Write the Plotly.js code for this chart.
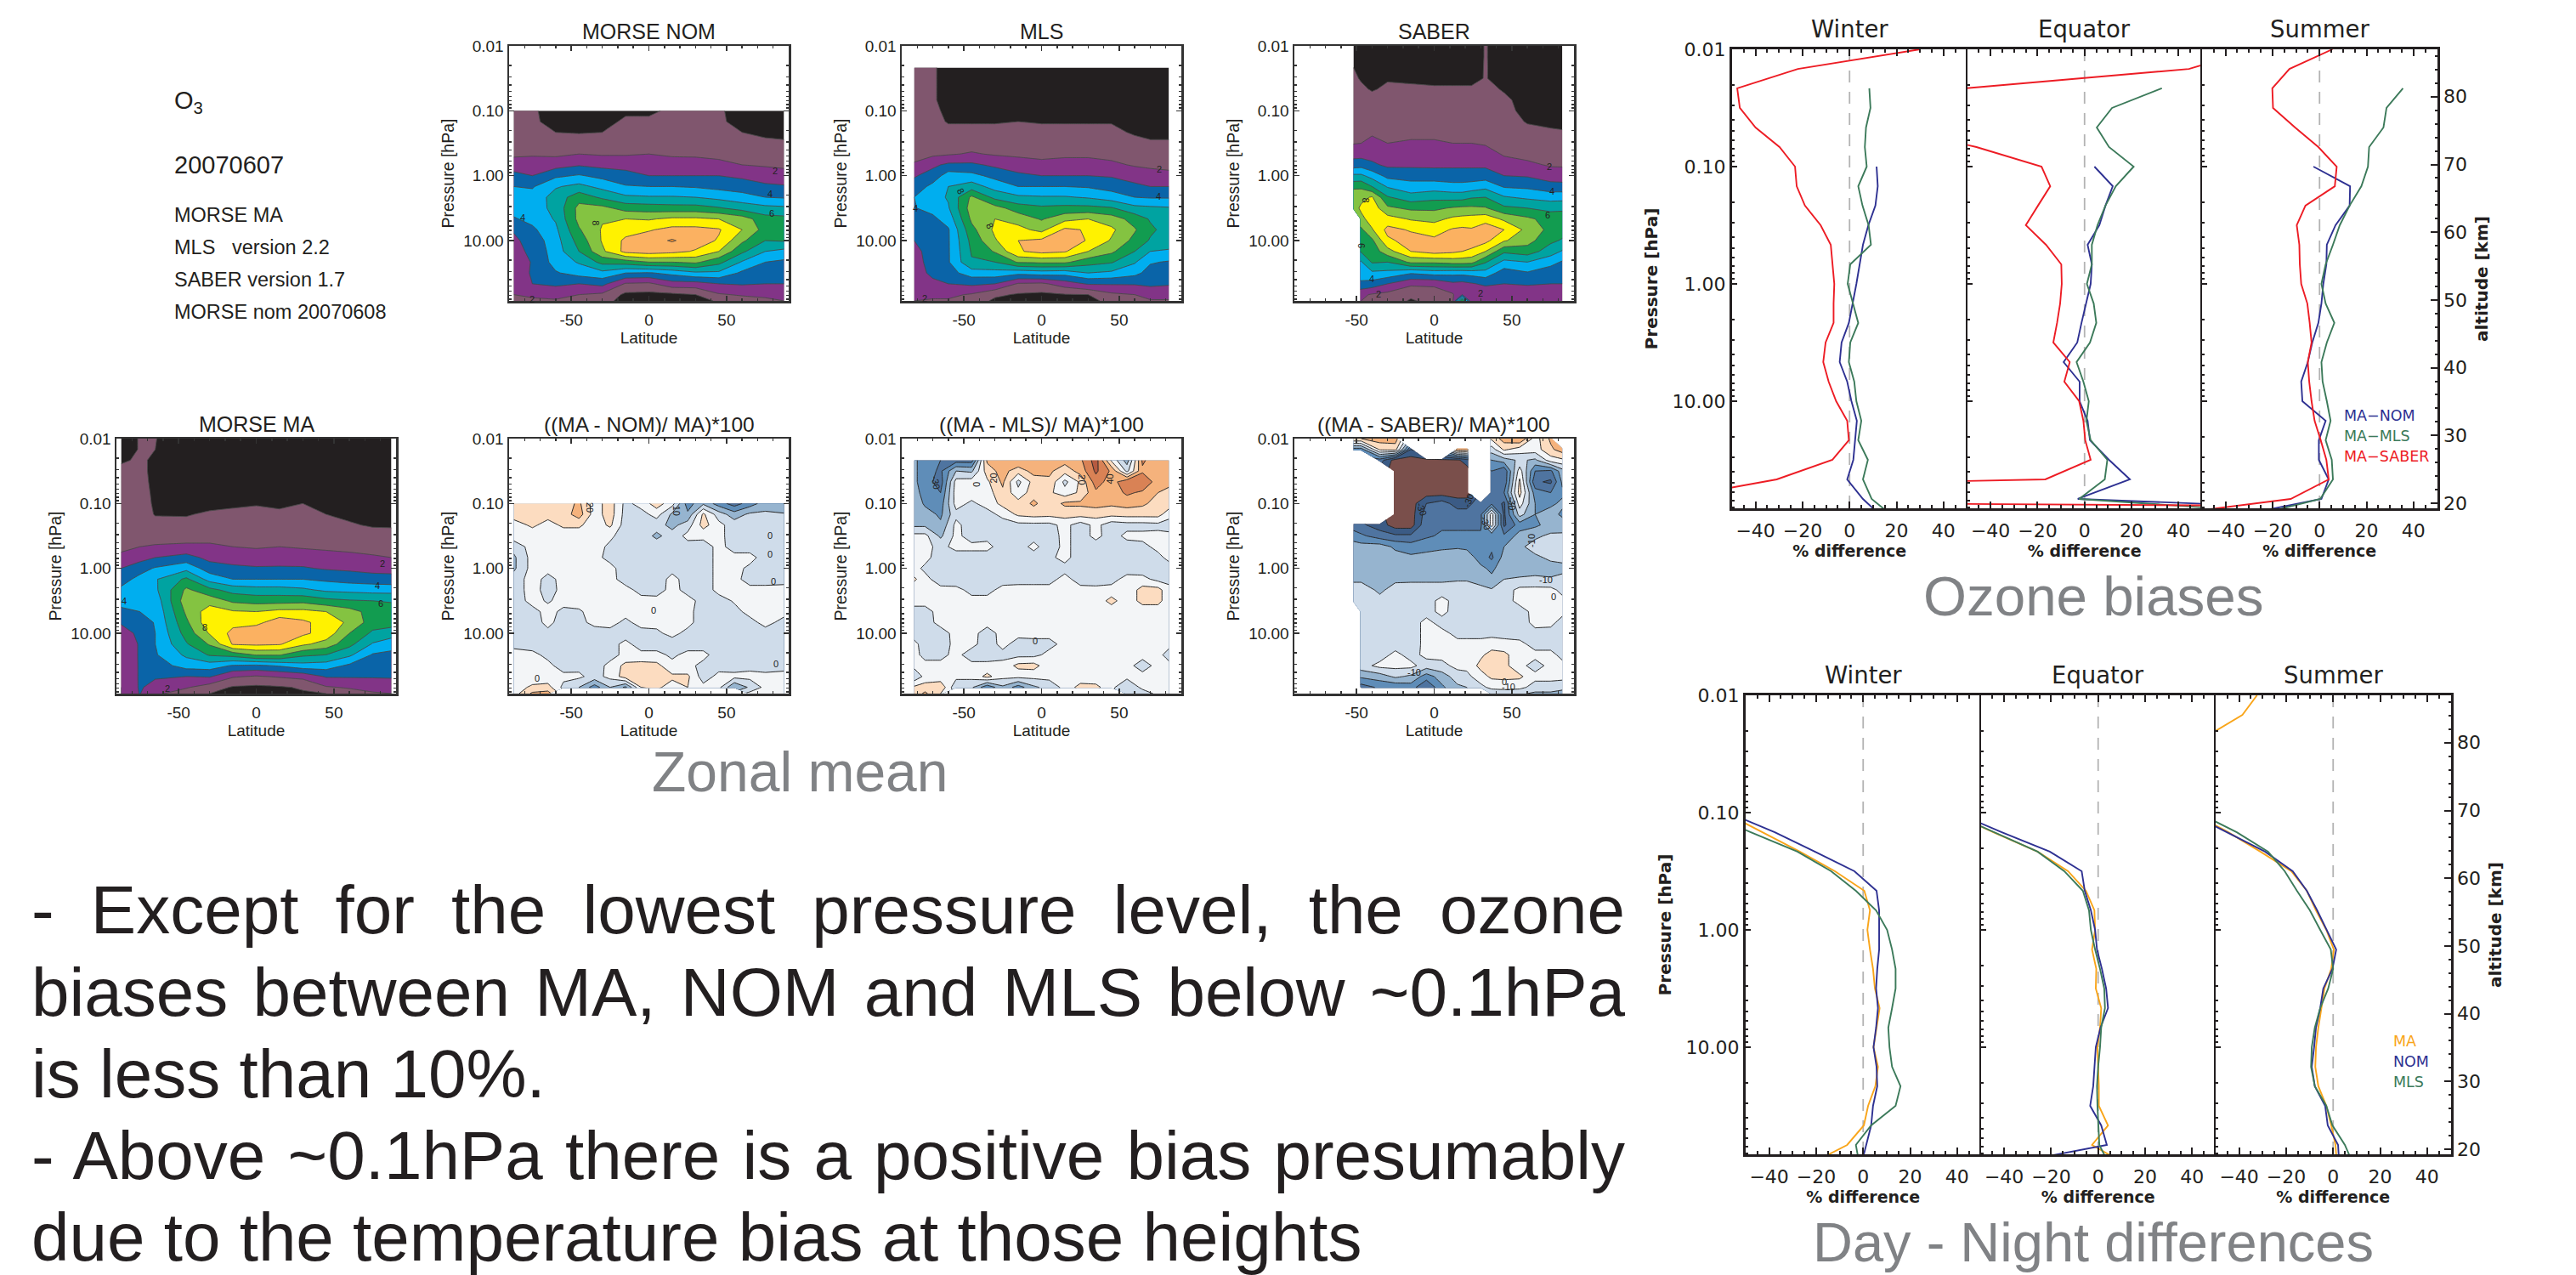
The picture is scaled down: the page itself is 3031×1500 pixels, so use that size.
<!DOCTYPE html>
<html><head><meta charset="utf-8">
<script src="https://cdn.plot.ly/plotly-3.0.1.min.js"></script>
<style>html,body{margin:0;padding:0;background:#fff}</style></head>
<body><div id="chart" style="width:3031px;height:1500px"></div>
<script>
// ---------- pressure levels ----------
const pLevels=[0.01,0.0147,0.0215,0.0316,0.0464,0.0681,0.1,0.147,0.215,0.316,0.464,0.681,1,1.47,2.15,3.16,4.64,6.81,10,14.7,21.5,31.6,46.4,68.1,85];
const pLine=[0.01,0.0147,0.0215,0.0316,0.0464,0.0681,0.1,0.147,0.215,0.316,0.464,0.681,1,1.47,2.15,3.16,4.64,6.81,10,14.7,21.5,31.6,46.4,68.1,100];
// ---------- zonal mean ozone (ppmv), one array per latitude, top level downward ----------
const latNom=[-87,-75,-60,-45,-30,-15,0,15,30,45,60,75,87];
const zNomByLat=[
[1.3,1.3,1.4,1.6,1.8,2.5,3.3,4.0,4.4,4.4,3.9,3.1,2.8,2.7,2.6,2.5,2.3,2.0,1.5],
[1.1,1.1,1.3,1.5,1.8,2.8,3.0,3.9,4.4,4.5,4.3,3.8,3.4,3.2,3.05,3.1,3.0,2.2,1.8],
[.7,.8,1.0,1.4,1.8,2.6,3.8,4.9,5.4,5.3,5.1,4.8,4.6,4.5,4.4,3.9,3.2,2.3,1.9],
[.7,.8,.95,1.4,2.0,2.9,4.1,5.3,6.6,7.3,7.3,6.9,6.4,6.0,5.1,4.4,3.0,2.0,1.6],
[.7,.8,1.0,1.4,1.9,2.7,3.7,4.7,5.8,7.3,7.9,8.1,8.1,7.8,6.3,4.7,3.3,1.8,1.5],
[.9,1.1,1.3,1.5,1.9,2.7,3.3,4.1,5.2,6.6,8.0,8.6,9.2,9.3,6.5,4.0,1.9,.8,.5],
[.9,1.1,1.4,1.8,2.0,2.6,3.0,4.0,5.1,6.5,7.9,8.9,9.6,9.5,7.0,3.9,1.8,.75,.5],
[1.1,1.2,1.4,1.7,1.8,2.6,3.0,4.0,5.1,6.4,8.2,9.3,10.1,9.3,7.0,4.3,2.6,.8,.7],
[1.1,1.2,1.3,1.6,1.8,2.5,3.0,3.9,5.0,6.4,8.2,9.3,9.5,8.9,7.2,4.8,2.6,1.0,.7],
[1.1,1.1,1.25,1.5,1.7,2.3,3.0,3.7,4.7,6.1,8.0,9.1,8.9,8.0,6.3,4.8,3.0,1.9,1.1],
[.7,.8,1.0,1.3,1.6,2.0,2.8,3.5,4.4,5.6,7.5,8.0,7.2,6.2,4.9,3.8,3.1,2.1,1.6],
[.6,.7,.8,1.2,1.5,1.9,2.5,3.2,4.0,5.3,6.4,6.6,6.0,5.0,4.0,3.4,3.0,2.2,1.8],
[.6,.7,.8,1.1,1.4,1.8,2.4,3.1,3.9,5.2,6.3,6.5,6.1,4.7,3.8,3.4,3.0,2.4,2.0]];
const latMls=[-82,-70,-60,-45,-30,-15,0,15,30,45,60,70,82];
const zMlsByLat=[
[1.2,1.2,1.2,1.3,1.3,1.3,1.4,1.5,1.7,2.1,2.9,3.4,4.0,3.95,3.7,3.2,3.0,2.8,2.8,2.8,2.9,2.2,2.0],
[1.1,1.1,1.1,1.1,1.2,1.2,1.3,1.5,1.8,2.8,3.4,4.3,4.6,4.3,3.8,3.5,3.4,3.3,3.2,3.1,2.9,2.2,1.9],
[.7,.7,.7,.7,.8,.95,1.2,1.5,1.9,3.2,4.5,5.0,5.1,4.9,4.4,3.9,3.9,3.9,3.9,3.6,3.0,2.2,1.9],
[.6,.6,.7,.7,.8,.95,1.2,1.6,2.1,3.2,4.3,5.5,7.2,7.5,7.2,6.7,6.3,6.1,5.9,4.5,3.2,1.9,1.6],
[.6,.6,.7,.7,.8,.95,1.2,1.5,1.9,2.8,3.7,4.6,5.7,7.4,8.0,8.2,7.9,7.1,6.0,4.6,3.0,1.2,.8],
[.6,.6,.6,.7,.8,1.0,1.2,1.5,1.8,2.5,3.2,4.0,5.2,6.5,7.6,8.3,9.0,8.9,7.1,4.3,1.9,.9,.6],
[.6,.6,.6,.7,.8,.95,1.2,1.5,1.7,2.3,3.0,4.0,5.1,6.2,6.9,7.7,9.2,9.3,7.2,4.5,1.8,.8,.5],
[.6,.6,.6,.7,.8,.95,1.2,1.5,1.8,2.4,3.0,4.0,5.1,6.3,7.7,9.2,9.7,9.1,7.2,4.4,2.5,.95,.7],
[.6,.6,.6,.7,.8,.95,1.2,1.5,1.8,2.4,3.0,3.9,4.9,6.3,8.0,8.9,8.9,8.0,6.4,5.0,3.1,1.0,.8],
[.6,.6,.6,.7,.8,.95,1.2,1.5,1.7,2.2,2.9,3.6,4.5,6.1,7.5,8.2,7.9,7.2,6.1,4.8,3.1,1.8,1.2],
[.5,.5,.5,.6,.6,.7,.9,1.25,1.5,1.9,2.6,3.2,4.0,5.3,6.6,7.1,6.7,6.0,5.1,4.3,3.1,2.0,1.6],
[.5,.5,.5,.6,.6,.65,.8,1.1,1.4,1.8,2.4,3.0,3.9,5.2,5.9,6.2,5.9,5.0,4.1,3.6,3.2,2.4,1.9],
[.5,.5,.5,.6,.6,.65,.8,1.1,1.4,1.7,2.3,3.0,3.9,5.1,5.5,5.6,5.4,4.9,3.9,3.5,3.1,2.4,1.9]];
const latSaber=[-52,-47,-40,-30,-15,0,12,18,24,33,45,60,75,82.5];
const zSaberByLat=[
[.7,.75,1.0,1.1,1.2,1.3,1.4,1.5,1.7,1.95,2.6,3.5,5.2,6.7,7.9,7.5,null,null,null,null,null,null,null,null,null],
[.7,.7,.8,.95,1.1,1.2,1.3,1.5,1.7,2.0,2.6,3.6,5.2,6.8,7.7,8.2,7.7,6.8,6.4,6.1,4.9,4.5,3.8,2.2,2.0],
[.6,.6,.7,.8,.95,1.2,1.3,1.5,1.9,2.2,2.6,3.2,4.6,6.0,8.1,8.6,8.5,7.9,6.8,6.4,6.1,4.8,3.6,1.9,1.5],
[.6,.6,.7,.95,1.1,1.2,1.3,1.5,1.8,2.0,2.3,2.8,3.7,4.9,6.1,7.2,8.4,9.3,8.8,7.6,6.0,4.7,3.0,1.7,1.5],
[.6,.6,.7,.9,1.1,1.2,1.3,1.5,1.8,2.1,2.4,2.8,3.6,4.4,5.4,6.8,7.9,8.9,9.4,9.0,7.2,4.1,2.2,1.2,.9],
[.6,.6,.7,.9,1.05,1.2,1.3,1.5,1.8,2.1,2.4,2.8,3.5,4.5,5.7,6.8,7.7,8.6,9.2,9.4,7.2,4.4,2.2,1.5,1.3],
[.6,.6,.7,.9,1.05,1.2,1.3,1.5,1.8,2.0,2.4,2.8,3.5,4.3,5.6,7.1,8.2,9.1,10.0,9.2,7.4,4.3,2.8,1.9,1.9],
[.6,.6,.7,.9,1.05,1.2,1.3,1.5,1.8,2.0,2.4,2.8,3.5,4.3,5.6,7.2,8.3,9.2,9.6,9.0,7.4,4.3,2.7,3.0,7.0],
[.6,.6,.7,.9,1.05,1.2,1.3,1.4,1.7,2.0,2.4,2.8,3.5,4.4,5.9,7.2,8.4,9.1,9.5,8.8,7.3,4.4,2.9,2.1,2.2],
[1.05,1.05,1.05,1.02,1.15,1.2,1.3,1.4,1.6,1.9,2.4,2.8,3.5,4.7,6.0,7.1,8.6,9.6,9.3,8.0,6.1,4.6,3.2,2.2,2.1],
[.6,.6,.65,.85,.95,1.1,1.2,1.3,1.5,1.7,1.9,2.4,3.0,3.9,5.1,6.2,7.8,9.0,8.1,6.2,4.7,3.5,3.0,2.4,2.1],
[.5,.5,.6,.6,.7,.8,.8,.95,1.2,1.5,1.7,2.2,2.9,3.8,4.8,6.0,7.2,7.7,7.4,6.5,5.0,3.9,3.1,2.4,2.1],
[.5,.5,.55,.6,.65,.7,.75,.85,1.1,1.4,1.6,1.9,2.5,3.4,4.6,5.7,6.6,6.7,6.2,5.5,4.3,3.5,3.0,2.4,2.1],
[.5,.5,.55,.6,.65,.7,.75,.85,1.05,1.35,1.6,1.9,2.4,3.4,4.6,5.8,6.5,6.4,5.9,4.9,3.9,3.4,3.0,2.4,2.1]];
const latMa=[-87,-75,-65,-45,-30,-15,0,15,30,45,60,75,87];
const zMaByLat=[
[.6,.6,.95,1.1,1.1,1.2,1.2,1.3,1.4,1.6,1.8,2.2,3.0,3.6,4.2,4.3,3.8,3.1,2.6,2.2,2.2,2.1,2.1,2.0,2.0],
[1.05,1.05,1.05,1.1,1.2,1.2,1.3,1.4,1.5,1.7,2.0,2.6,3.6,4.3,4.6,4.5,4.0,3.3,3.2,3.1,3.1,3.1,3.1,3.1,3.05],
[1.02,1.0,.95,.9,.85,.9,.9,.95,1.3,1.6,2.1,3.0,4.1,4.9,4.8,4.4,4.2,4.1,4.0,4.0,3.9,3.5,3.1,2.7,2.2],
[.6,.6,.6,.6,.6,.7,.8,.95,1.2,1.6,2.2,3.4,4.7,6.2,7.2,7.6,7.2,6.8,6.4,5.9,5.2,4.4,3.0,2.1,1.5],
[.6,.6,.6,.6,.6,.7,.8,1.1,1.4,1.8,2.1,2.7,3.5,4.6,6.3,7.6,8.5,8.7,8.1,7.1,6.1,4.5,3.1,1.5,1.0],
[.6,.6,.6,.6,.6,.7,.85,1.2,1.4,1.7,2.0,2.6,3.2,4.0,5.6,6.8,8.1,8.7,9.3,9.1,6.4,3.9,2.1,.9,.6],
[.6,.6,.6,.6,.6,.7,.95,1.2,1.4,1.7,1.9,2.5,3.1,4.0,5.4,6.6,8.0,8.7,9.8,9.2,7.1,3.8,1.9,.8,.5],
[.6,.6,.6,.6,.6,.75,.9,1.1,1.4,1.7,2.0,2.6,3.1,4.0,5.4,6.6,8.3,9.6,9.7,9.1,7.1,4.1,2.1,.9,.6],
[.6,.6,.6,.6,1.0,.9,1.0,1.1,1.4,1.6,1.9,2.5,3.1,4.0,5.2,6.7,8.3,9.2,9.2,8.2,6.2,4.6,2.3,1.1,.9],
[.6,.6,.6,.6,.6,.7,.8,1.0,1.3,1.6,1.8,2.4,2.9,3.8,4.8,6.3,8.0,8.6,8.6,7.6,6.0,4.5,3.1,1.9,1.0],
[.6,.6,.6,.6,.6,.65,.7,.8,1.1,1.5,1.7,2.3,2.8,3.6,4.7,6.1,7.4,7.8,7.0,6.3,5.2,3.8,3.1,2.1,1.6],
[.6,.6,.6,.6,.6,.6,.65,.7,.9,1.4,1.7,2.1,2.6,3.5,4.6,6.0,6.6,6.5,5.8,4.9,3.9,3.4,3.1,2.3,1.9],
[.6,.6,.6,.6,.6,.6,.65,.7,.9,1.3,1.6,2.0,2.6,3.4,4.6,5.9,6.5,6.5,5.4,4.5,3.7,3.4,3.1,2.5,2.0]];
// ---------- percent differences, one array per latitude ----------
const latDiff=[-87,-75,-65,-55,-45,-35,-25,-15,-5,5,15,25,35,45,55,65,75,87];
const zDiffNomByLat=[
[15,15,5,5,-6,-12,-12,-5,-5,-5,-5,-5,-4,-3,4,4,4,5,5],
[15,15,12,4,4,4,4,4,4,3,-3,-5,-5,-5,3,4,4,12,22],
[15,14,6,3,3,3,3,-3,-4,-1,3,3,-3,-5,-3,3,3,14,24],
[15,15,12,4,4,3,3,3,3,3,-2,-5,-6,-6,-5,-5,3,-3,null],
[22,25,12,4,4,3,3,3,3,3,-1,-3,-5,-5,-5,-3,2,-10,null],
[5,5,4,4,4,3,3,3,3,3,3,3,-5,-5,-5,-5,-4,-25,null],
[15,15,12,2,-2,-3,3,3,3,3,3,3,-3,-4,-4,3,3,-10,null],
[-3,-4,-5,-5,-5,-5,-5,-4,3,3,3,-2,-5,3,3,13,15,-22,null],
[4,-4,-5,-5,-5,-5,-5,-5,-3,3,3,3,-3,-5,3,14,16,10,null],
[15,4,-6,-12,-5,-5,-5,-5,-4,3,3,3,-2,-5,3,13,15,12,null],
[4,-12,-13,-6,-6,-5,-3,3,3,3,3,3,3,-5,-2,3,12,6,null],
[-25,-18,-5,3,-4,-5,-5,-4,-3,3,3,3,-3,-5,3,3,12,10,null],
[-12,12,14,3,-5,-5,-5,-5,-5,-3,-5,-5,-5,-5,3,-3,-5,3,null],
[-25,-5,3,3,3,3,3,3,3,-4,-5,-5,-5,-5,-5,-4,3,3,null],
[-35,-15,-5,-5,-4,3,3,3,3,1,-3,-5,-5,-5,-5,-5,3,-20,null],
[-25,-8,-5,-5,-4,3,-2,-4,3,3,3,-3,-5,-5,-5,-3,3,-8,3],
[-15,-8,-5,-5,-5,-4,-4,-4,3,3,3,3,-4,-5,-5,-5,3,3,3],
[-18,-9,-5,-5,-3,-3,-4,-3,3,3,3,-3,-5,-5,-5,-3,3,3,3]];
const latDiffMls=[-82,-75,-65,-55,-45,-35,-25,-15,-5,5,15,25,35,45,55,65,75,82];
const zDiffMlsByLat=[
[-18,-18,-18,-15,-12,-15,-12,3,3,3,3,12,3,3,-3,-5,-5,3,3,3,-8,12,14],
[-25,-25,-25,-25,-22,-15,-12,3,3,3,-2,3,3,3,-3,-4,-5,-5,-3,3,3,15,22],
[-30,-32,-35,-30,-25,-22,-18,-12,-3,-5,-6,-5,3,3,3,3,-4,-5,-3,3,3,18,10],
[-35,-10,4,5,4,-3,3,3,3,-5,-6,-6,3,3,3,3,3,3,3,3,3,-8,null],
[-35,-12,5,5,-2,-4,-6,-5,3,-5,-6,-7,-3,3,3,3,3,3,-5,3,3,-8,null],
[22,15,8,5,4,-4,-5,-3,3,-5,-6,-5,-3,3,3,3,-4,-5,-5,3,13,-28,null],
[28,24,22,18,13,3,-5,-5,-5,-5,-6,-4,3,3,3,3,3,3,-3,3,3,-12,null],
[30,14,-3,3,14,12,-3,-5,-5,-5,-6,-3,3,3,3,3,3,-4,-3,13,3,-25,null],
[28,24,14,16,22,14,-3,-4,3,-5,-6,-3,3,3,3,3,3,-3,-3,14,3,-12,null],
[26,22,18,12,14,13,-3,-5,-6,-2,-3,-3,3,3,3,3,3,-3,3,3,3,-6,null],
[24,14,-3,4,22,14,3,3,3,3,-3,3,3,3,3,3,3,3,3,3,3,3,null],
[28,24,12,12,22,14,-5,-5,-5,-5,-6,-4,3,3,3,3,3,3,3,3,3,14,null],
[45,42,35,28,24,14,3,3,-5,-6,-6,-5,3,3,3,3,3,3,3,3,3,13,null],
[8,28,25,24,22,13,-6,-5,-5,-5,-5,-3,3,14,3,3,3,3,3,3,3,3,null],
[-15,-3,38,32,24,14,-4,3,-5,-5,-4,3,3,3,3,3,3,3,3,3,3,-10,-8],
[32,28,40,28,22,14,-4,3,-3,-5,-5,3,14,14,3,3,3,3,3,-4,3,3,-6],
[22,25,24,20,16,14,-3,3,3,-3,-5,-3,14,14,3,3,3,3,3,3,3,3,3],
[28,24,22,18,16,4,-5,3,3,3,-5,-3,3,3,3,3,3,3,-4,3,3,3,3]];
const latDiffSaber=[-52,-47,-35,-25,-15,-5,5,15,21,30,37,45,55,65,75,82.5];
const zDiffSaberByLat=[
[20,-25,null,null,null,null,null,null,-35,-25,-15,-15,-15,-12,-5,-5,null,null,null,null,null,null,null,null,null],
[20,-25,null,null,null,null,null,null,-38,-28,-16,-16,-16,-12,-5,-5,-5,-5,-5,-6,-5,-4,-18,-35,null],
[25,12,-35,null,null,null,null,null,-45,-35,-15,-15,-15,-14,-12,-7,-5,-5,-5,-5,-5,3,-15,-28,null],
[25,14,-55,-55,-55,-55,-55,-55,-55,-38,-22,-16,-15,-12,-6,-5,-5,-5,-5,-5,3,3,-8,-28,null],
[null,-40,-55,-55,-55,-55,-55,-55,-55,-38,-25,-18,-16,-12,-5,-5,-4,-5,-5,-5,-4,3,-12,-25,null],
[null,null,-52,-55,-55,-55,-40,-35,-32,-32,-22,-18,-15,-12,-5,-4,-4,3,3,3,3,-5,-25,-40,null],
[null,null,-52,-55,-55,-55,-35,-35,-32,-28,-22,-15,-14,-12,-5,3,3,-4,3,3,3,-3,-15,-22,null],
[null,25,-52,-55,-55,-55,-45,-35,-32,-28,-21,-15,-14,-11,-5,-4,-5,-4,-3,3,3,3,-5,-12,null],
[null,25,-45,-55,-55,-55,-45,-35,-32,-28,-22,-15,-14,-11,-5,-4,-5,-4,-3,3,3,3,-3,-10,null],
[null,null,null,null,null,null,-32,-32,-32,-28,-24,-24,-18,-14,-7,-3,-2,-5,-3,3,8,13,6,-3,null],
[12,-5,-20,-30,-30,-32,-32,5,5,-28,-28,-32,-22,-18,-9,-5,-5,-5,-3,5,14,14,12,3,-8],
[25,12,-15,-38,-38,-30,-42,-42,-42,-28,-20,-16,-15,-10,-5,-4,-4,-5,-3,3,13,13,13,3,-5],
[30,5,-8,5,12,14,5,-6,-25,-16,-12,-14,-14,-9,3,3,-4,-5,-5,3,3,3,12,3,-8],
[5,5,-12,-30,-38,-25,-20,-20,-22,-12,-6,-12,-14,-8,3,3,3,3,-3,-4,3,-4,3,-4,-12],
[22,18,5,-32,-42,-30,-22,-16,-16,-8,-6,-8,-14,-9,3,3,3,3,-4,-4,3,3,3,-4,-12],
[null,25,8,-14,-18,-22,-18,-22,-15,-8,-6,-8,-12,-8,-3,3,3,-4,-5,-5,-3,3,3,-6,-15]];
// ---------- band colours ----------
const ozoneColors=['#231f20','#80566e','#823487','#0a64a8','#00aeef','#00a3a1','#129c50','#84c341','#fff200','#fbb161','#e88a2e'];
const diffColors=['#7a4f4b','#3b5b85','#4f74a0','#5f8db8','#96b4cf','#cfdcea','#f3f5f7','#fcdcc0','#f5b27c','#d98255','#b65a40','#7a4a45'];
// ---------- Ozone biases profiles (%) ----------
const biasWinterSaber=[30,-22,-47.8,-46.7,-40,-29.8,-23.2,-22.5,-19,-12.3,-8,-7.3,-6.5,-6.8,-6.8,-10.2,-11.2,-8.9,-5.7,-1,-.3,-7.3,-31,-77];
const biasWinterMls=[8.4,8.9,7,6.5,7.3,3.7,5.5,8.1,9.1,.3,-.8,1.6,3.7,.3,-.3,2,2.9,5,3.7,7.8,5.7,9.4,19.6];
const biasWinterNom=[11.5,12,11,8,5.7,4.4,2.9,1.3,-.3,-3.4,-4.2,-1,.8,3.1,2.3,1.6,-1,5.7,14.6];
const biasEquatorSaber=[73,44.4,-50.5,-85,-82.8,-46,-18.3,-14.6,-19.8,-25,-16.4,-9.9,-9.7,-10.4,-11.7,-13.3,-6.3,-8.6,-2.3,-.5,.3,2.6,-16.7,-415,1000];
const biasEquatorMls=[32.9,11.7,5.2,10.4,20.9,13.3,8.9,5.5,3.1,3.1,1,3.9,5,2.3,-3.4,-.5,1.8,.8,2.6,9.7,8.6,-2.3,120];
const biasEquatorNom=[4.2,12,8.9,6.3,1.3,3.1,2.6,.5,-1.3,-3.1,-8.9,-2.1,-2.1,1.3,2.3,10.4,19.3,-2.9,214];
const biasSummerSaber=[5.5,-12.8,-20.1,-19.8,-10.4,-.5,7.3,6.5,-6,-9.7,-8.6,-8.4,-7.8,-5.2,-4.2,-3.4,-5,-4.4,-3.4,-2.1,.5,2.9,3.9,-12.3,-78];
const biasSummerMls=[35.5,28.5,27.2,21.1,20.6,17.8,12.8,8.6,5.7,2.6,.8,2.6,6.3,3.1,.8,1.3,3.1,4.7,2.6,5.2,5.7,.3,-33];
const biasSummerNom=[-2.6,13,12.8,6.8,3.1,2.9,1.6,.8,-.5,-3.1,-5,-7.8,-7.3,2.6,-.3,-.3,3.9,.8,-41];
// ---------- Day - Night profiles (%) ----------
const dnWinterMa=[-59,-43,-27,-12,.5,2.9,1.8,2.9,4.2,5,7,5.7,4.4,6.3,5.2,2.1,.3,-6.8,-23];
const dnWinterNom=[-57.7,-37.6,-20.6,-3.7,5.7,6.8,6.8,6.8,6,5.5,6.3,5.5,4.4,5.7,6,4.2,3.4,1.3,-.8];
const dnWinterMls=[-67,-47.8,-28,-13.6,-3.1,5.5,10.2,12.3,13.8,13.8,12.3,10.7,11.2,12.3,15.9,13.8,3.4,-3.1,-1.6];
const dnEquatorMa=[-62.7,-44.6,-25.8,-12.8,-5.2,-1.6,-1.3,-2.6,-.8,-1,1.3,.8,-.3,0,.3,.3,4.2,-2.6,12];
const dnEquatorNom=[-60.6,-41,-20.6,-7,-5.7,-3.1,-1.3,-.5,1.6,3.4,4.2,1,-1,-1.6,-2.1,-3.4,1.3,3.7,-40];
const dnEquatorMls=[-63,-44,-25.8,-14.4,-6.5,-3.9,-3.1,-1.3,.8,2.6,2.9,1.3,.8,0,-.5,-.3,0,.5,4.7];
const dnSummerMa=[-32.4,-38.6,-52.5,-80,-100,-100,-60,-44.6,-31,-17.8,-11.2,-7.3,-2.9,.3,-.8,-3.7,-5,-6.3,-7.3,-7.6,-6.3,-2.9,-.8,1,1.6];
const dnSummerNom=[-61.6,-45.4,-29,-17.2,-11.2,-6.8,-2.9,1.3,-.3,-4.2,-5.5,-7.3,-8.1,-9.1,-7.8,-3.4,-2.3,2.1,2.6];
const dnSummerMls=[-57.7,-41,-27.7,-20.6,-15.4,-9.9,-5.5,-1,0,-2.1,-5.5,-7.8,-9.1,-9.4,-7.8,-2.9,-.3,5,8.6];
// ---------- text ----------
const bodyLines=['- Except for the lowest pressure level, the ozone','biases between MA, NOM and MLS below ~0.1hPa','is less than 10%.','- Above ~0.1hPa there is a positive bias presumably','due to the temperature bias at those heights'];
const infoLines=['20070607','MORSE MA','MLS\u00a0\u00a0 version 2.2','SABER version 1.7','MORSE nom 20070608'];
const pressureTicks=[0.01,0.1,1,10], pressureTickText=['0.01','0.10','1.00','10.00'];
const pressureMinor=[.02,.03,.04,.05,.06,.07,.08,.09,.2,.3,.4,.5,.6,.7,.8,.9,2,3,4,5,6,7,8,9,20,30,40,50,60,70,80];
const latTicks=[-50,0,50], latTickText=['-50','0','50'];
const pctTicks=[-40,-20,0,20,40], pctTickText=['\u221240','\u221220','0','20','40'];
const altTicks=[20,30,40,50,60,70,80];

const W=3031,H=1500,data=[],layout={width:W,height:H,margin:{l:0,r:0,t:0,b:0},paper_bgcolor:'#fff',plot_bgcolor:'#fff',showlegend:false,annotations:[]};
const sans='Liberation Sans, Arial, sans-serif', dj='DejaVu Sans, sans-serif', ink='#231f20';
const dom=(a,b,L)=>[a/L,b/L], ydom=(t,b)=>[1-b/H,1-t/H];
const transpose=(cols)=>cols[0].map((_,r)=>cols.map(c=>c[r]));
function note(text,x,base,size,opt){layout.annotations.push(Object.assign({text,xref:'paper',yref:'paper',x:x/W,y:1-(base+size*0.27)/H,yanchor:'bottom',xanchor:'center',showarrow:false,font:{family:sans,size,color:ink},borderpad:0},opt||{}));}
function lab(id,lat,p,text,angle){layout.annotations.push({text,xref:'x'+id,yref:'y'+id,x:lat,y:Math.log10(p),showarrow:false,textangle:angle||0,font:{family:sans,size:11,color:'#222'},borderpad:0});}

function contourPanel(id,l,t,title,lat,rows,cols,kind){
  const r=l+329,b=t+300;
  const conf=kind==='o3'?{start:1,end:10,size:1,colors:ozoneColors,lc:'#4a4a4a',lw:.9}:{start:-50,end:50,size:10,colors:diffColors,lc:'#2a2a2a',lw:1};
  const n=conf.colors.length-1;
  data.push({type:'contour',xaxis:'x'+id,yaxis:'y'+id,x:lat,y:rows,z:transpose(cols),autocontour:false,
    contours:{start:conf.start,end:conf.end,size:conf.size,coloring:'fill',showlines:true},
    colorscale:conf.colors.map((c,i)=>[i/n,c]),showscale:false,line:{color:conf.lc,width:conf.lw,smoothing:0},hoverinfo:'skip',connectgaps:false});
  layout['xaxis'+id]={domain:dom(l,r,W),anchor:'y'+id,range:[-90,90],tickmode:'array',tickvals:latTicks,ticktext:latTickText,ticks:'inside',ticklen:6,tickwidth:1.5,tickcolor:'#333',
    minor:{tickmode:'array',tickvals:[-80,-70,-60,-40,-30,-20,-10,10,20,30,40,60,70,80],ticks:'inside',ticklen:3,tickcolor:'#333'},showline:true,linecolor:'#333',linewidth:2.5,mirror:'ticks',showgrid:false,zeroline:false,
    tickfont:{family:sans,size:19,color:ink},ticklabelstandoff:4,title:{text:'Latitude',font:{family:sans,size:19,color:ink},standoff:4}};
  layout['yaxis'+id]={domain:ydom(t,b),anchor:'x'+id,type:'log',range:[1.93,-2],tickmode:'array',tickvals:pressureTicks,ticktext:pressureTickText,ticks:'inside',ticklen:6,tickwidth:1.5,tickcolor:'#333',
    minor:{tickmode:'array',tickvals:pressureMinor,ticks:'inside',ticklen:3,tickcolor:'#333'},showline:true,linecolor:'#333',linewidth:2.5,mirror:'ticks',showgrid:false,zeroline:false,
    tickfont:{family:sans,size:19,color:ink},title:{text:'Pressure [hPa]',font:{family:sans,size:19.5,color:ink},standoff:6}};
  const ts=kind==='o3'?25:24.5;
  note(title,(l+r)/2,t-9,ts);
}
const ROW1=54,ROW2=516,XA=137,XB=599,XC=1061,XD=1523;
contourPanel(1,XB,ROW1,'MORSE NOM',latNom,pLevels.slice(6),zNomByLat,'o3');
contourPanel(2,XC,ROW1,'MLS',latMls,pLevels.slice(2),zMlsByLat,'o3');
contourPanel(3,XD,ROW1,'SABER',latSaber,pLevels,zSaberByLat,'o3');
contourPanel(4,XA,ROW2,'MORSE MA',latMa,pLevels,zMaByLat,'o3');
contourPanel(5,XB,ROW2,'((MA - NOM)/ MA)*100',latDiff,pLevels.slice(6),zDiffNomByLat,'diff');
contourPanel(6,XC,ROW2,'((MA - MLS)/ MA)*100',latDiffMls,pLevels.slice(2),zDiffMlsByLat,'diff');
contourPanel(7,XD,ROW2,'((MA - SABER)/ MA)*100',latDiffSaber,pLevels,zDiffSaberByLat,'diff');
[[1,81,.846,'2'],[1,78,1.89,'4'],[1,79,3.8,'6'],[1,-34,5.4,'8',90],[1,-81,4.4,'4'],[1,-75,81,'2'],
 [2,76,.8,'2'],[2,75,2.1,'4'],[2,-33,5.9,'8',60],[2,-52,1.76,'8',60],[2,-81,3.2,'4'],[2,-75,77,'2'],
 [3,74,.73,'2'],[3,76,1.74,'4'],[3,73,4,'6'],[3,-44,2.4,'8',90],[3,-47,11.8,'6',90],[3,-40,39,'4'],[3,-36,66,'2'],[3,30,64,'2'],
 [4,81,.85,'2'],[4,78,1.87,'4'],[4,80,3.5,'6'],[4,-33,8,'8'],[4,-85,3.2,'4'],[4,-57,71,'2'],
 [5,78,.31,'0'],[5,78,.61,'0'],[5,80,1.6,'0'],[5,3,4.4,'0'],[5,82,30,'0'],[5,-72,49,'0'],[5,18,.13,'10',90],[5,-38,.115,'20',90],
 [6,-31,.041,'20',-90],[6,26,.043,'20',90],[6,44,.042,'40',-90],[6,-4,13,'0'],[6,-42,.05,'0',90],[6,-68,.048,'-30',80],
 [7,72,1.5,'-10'],[7,77,2.7,'0'],[7,50,.1,'-30',90],[7,33,.2,'-30',70],[7,22,.09,'-30',-70],[7,-13,40,'-10'],[7,48,66,'-10'],[7,45,55,'0'],[7,-8,.122,'-30',70],[7,63,.376,'-10',-90]
].forEach(a=>lab(a[0],a[1],a[2],a[3],a[4]));

// ---------- profile panels ----------
const BLUE='#2e3192',GREEN='#3c7a5a',RED='#ed1c24',ORANGE='#f9a51a';
const PW=276.5;
function linePanel(id,l,t,title,series,first){
  const r=l+PW,b=t+540;
  layout['xaxis'+id]={domain:dom(l,r,W),anchor:'y'+id,range:[-50,50],tickmode:'array',tickvals:pctTicks,ticktext:pctTickText,ticks:'inside',ticklen:8,tickwidth:2,tickcolor:ink,
    minor:{tickmode:'linear',tick0:0,dtick:5,ticks:'inside',ticklen:4,tickwidth:2,tickcolor:ink},showline:true,linecolor:ink,linewidth:3,mirror:'ticks',showgrid:false,zeroline:false,
    tickfont:{family:dj,size:22,color:ink},ticklabelstandoff:5,title:{text:'% difference',font:{family:dj,size:19,color:ink,weight:700},standoff:4}};
  layout['yaxis'+id]=Object.assign({domain:ydom(t,b),anchor:'x'+id,type:'log',range:[1.913,-2],tickmode:'array',tickvals:pressureTicks,ticktext:pressureTickText,ticks:'inside',ticklen:6,tickwidth:2,tickcolor:ink,
    minor:{tickmode:'array',tickvals:pressureMinor,ticks:'inside',ticklen:3,tickwidth:2,tickcolor:ink},showline:true,linecolor:ink,linewidth:first?3:2,mirror:false,showgrid:false,zeroline:false,
    tickfont:{family:dj,size:22,color:ink},showticklabels:first},first?{title:{text:'Pressure [hPa]',font:{family:dj,size:20,color:ink,weight:700},standoff:12}}:{});
  data.push({type:'scatter',mode:'lines',xaxis:'x'+id,yaxis:'y'+id,x:[0,0],y:[0.01,85],line:{color:'#b3b3b3',width:1.8,dash:'14px,11px'},hoverinfo:'skip'});
  series.forEach(s=>data.push({type:'scatter',mode:'lines',xaxis:'x'+id,yaxis:'y'+id,x:s.v,y:pLine.slice(s.k),line:{color:s.c,width:1.9},hoverinfo:'skip'}));
  note(title,(l+r)/2,t-14,27.5,{font:{family:dj,size:27.5,color:ink}});
}
const TOPL=2038,BOTL=2054,TOPT=58,BOTT=818;
linePanel(8,TOPL,TOPT,'Winter',[{v:biasWinterNom,k:6,c:BLUE},{v:biasWinterMls,k:2,c:GREEN},{v:biasWinterSaber,k:0,c:RED}],true);
linePanel(9,TOPL+PW,TOPT,'Equator',[{v:biasEquatorNom,k:6,c:BLUE},{v:biasEquatorMls,k:2,c:GREEN},{v:biasEquatorSaber,k:0,c:RED}],false);
linePanel(10,TOPL+2*PW,TOPT,'Summer',[{v:biasSummerNom,k:6,c:BLUE},{v:biasSummerMls,k:2,c:GREEN},{v:biasSummerSaber,k:0,c:RED}],false);
linePanel(11,BOTL,BOTT,'Winter',[{v:dnWinterMa,k:6,c:ORANGE},{v:dnWinterNom,k:6,c:BLUE},{v:dnWinterMls,k:6,c:GREEN}],true);
linePanel(12,BOTL+PW,BOTT,'Equator',[{v:dnEquatorMa,k:6,c:ORANGE},{v:dnEquatorNom,k:6,c:BLUE},{v:dnEquatorMls,k:6,c:GREEN}],false);
linePanel(13,BOTL+2*PW,BOTT,'Summer',[{v:dnSummerMa,k:0,c:ORANGE},{v:dnSummerNom,k:6,c:BLUE},{v:dnSummerMls,k:6,c:GREEN}],false);
function altAxis(id,over,t){
  data.push({type:'scatter',mode:'lines',xaxis:'x'+over,yaxis:'y'+id,x:[0,0],y:[20,80],line:{color:'rgba(0,0,0,0)',width:0},hoverinfo:'skip'});
  layout['yaxis'+id]={domain:ydom(t,t+540),anchor:'x'+over,overlaying:'y'+over,side:'right',range:[19.25,87],tickmode:'array',tickvals:altTicks,ticks:'inside',ticklen:8,tickwidth:2,tickcolor:ink,
    minor:{tickmode:'linear',tick0:20,dtick:2,ticks:'inside',ticklen:3,tickwidth:2,tickcolor:ink},showline:true,linecolor:ink,linewidth:3,showgrid:false,zeroline:false,
    tickfont:{family:dj,size:22,color:ink},title:{text:'altitude [km]',font:{family:dj,size:20,color:ink,weight:700},standoff:12}};
}
altAxis(14,10,TOPT); altAxis(15,13,BOTT);
function legendText(text,x,y,c){layout.annotations.push({text,xref:'paper',yref:'paper',x:x/W,y:1-y/H,xanchor:'left',yanchor:'middle',align:'left',showarrow:false,font:{family:dj,size:17.5,color:c},borderpad:0});}
legendText('MA\u2212NOM',2757,489,BLUE);legendText('MA\u2212MLS',2757,513,GREEN);legendText('MA\u2212SABER',2757,537,RED);
legendText('MA',2815,1225,ORANGE);legendText('NOM',2815,1249,BLUE);legendText('MLS',2815,1273,GREEN);

// ---------- free text ----------
const left={xanchor:'left',align:'left'};
note('O<sub>3</sub>',204,131,29,left);
note(infoLines[0],204,203,29,left);
infoLines.slice(1).forEach((s,i)=>note(s,204,261+38*i,23.5,left));
const grey='#808285';
note('Zonal mean',941,928,66,{font:{family:sans,size:66,color:grey}});
note('Ozone biases',2463,721,65.5,{font:{family:sans,size:65.5,color:grey}});
note('Day - Night differences',2463,1481,65,{font:{family:sans,size:65,color:grey}});
const bodyBase=[1094,1191,1287,1383,1479];
bodyLines.forEach((s,i)=>note(s,36,bodyBase[i],80,left));

Plotly.newPlot('chart',data,layout,{staticPlot:true,displayModeBar:false}).then(gd=>{
  const right=1911,justified=[bodyLines[0],bodyLines[1],bodyLines[3]];
  gd.querySelectorAll('.annotation-text').forEach(t=>{
    if(!justified.includes(t.textContent))return;
    const gaps=t.textContent.split(' ').length-1, len=t.getComputedTextLength();
    t.style.whiteSpace='pre';
    t.style.wordSpacing=((right-36-len)/gaps)+'px';
  });
});
</script></body></html>
